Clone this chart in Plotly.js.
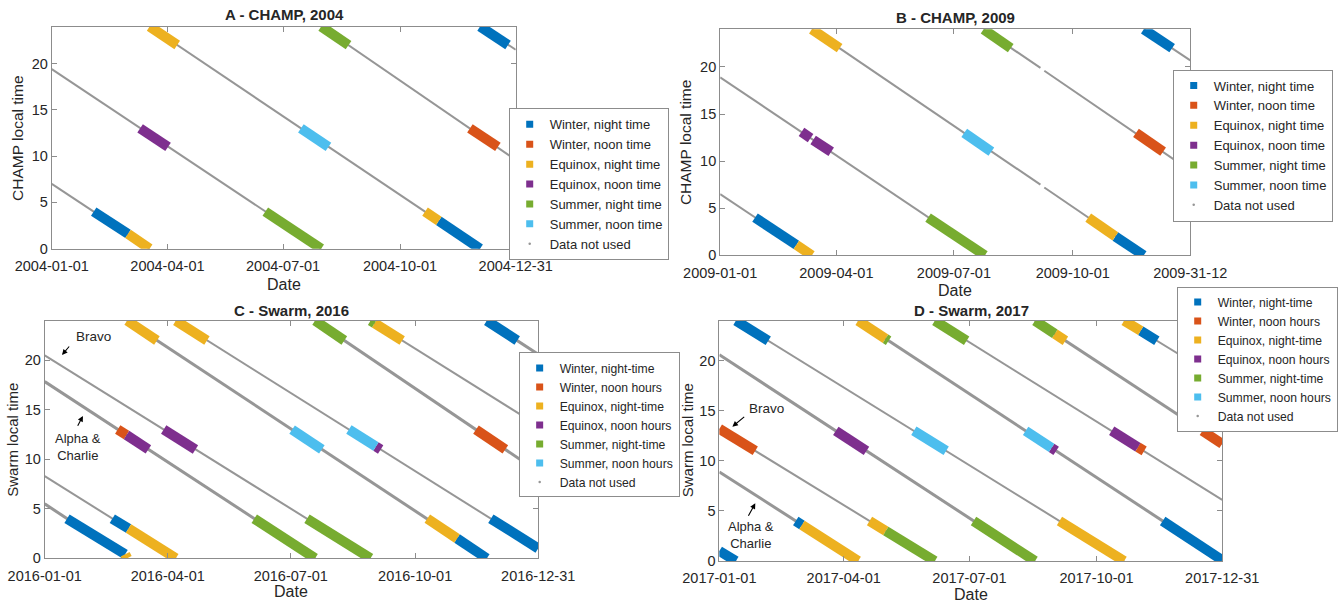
<!DOCTYPE html>
<html><head><meta charset="utf-8">
<script src="https://cdn.plot.ly/plotly-3.0.1.min.js"></script>
<style>html,body{margin:0;padding:0;background:#fff}#chart{width:1338px;height:604px}</style>
</head><body><div id="chart"></div>
<script>
// ---------- DATA ----------
// x = day of year (0 = 1 January), y = local time (hours)
const seriesCHAMP = ['Winter, night time','Winter, noon time','Equinox, night time','Equinox, noon time','Summer, night time','Summer, noon time','Data not used'];
const seriesSwarm = ['Winter, night-time','Winter, noon hours','Equinox, night-time','Equinox, noon hours','Summer, night-time','Summer, noon hours','Data not used'];

const tickDaysA = [0, 91, 182, 274, 365];
const tickLabelsA = ['2004-01-01','2004-04-01','2004-07-01','2004-10-01','2004-12-31'];
const tickDaysB = [0, 90, 181, 273, 364];
const tickLabelsB = ['2009-01-01','2009-04-01','2009-07-01','2009-10-01','2009-31-12'];
const tickDaysC = [0, 91, 182, 274, 365];
const tickLabelsC = ['2016-01-01','2016-04-01','2016-07-01','2016-10-01','2016-12-31'];
const tickDaysD = [0, 90, 181, 273, 364];
const tickLabelsD = ['2017-01-01','2017-04-01','2017-07-01','2017-10-01','2017-12-31'];
const localTimeTicks = [0, 5, 10, 15, 20];

// gray orbit tracks ("Data not used"): [startDay, startLT, endDay, endLT]
const tracksA = [[0,19.4,212,0],[0,7.0,77,0],[77,24,337,0],[212,24,365,9.6],[337,24,365,21.5]];
const tracksB = [[0,18.9,205,0],[0,6.5,71,0],[71,24,248,7.5],[251,7.2,328,0],[204,24,248,19.9],[251,19.6,364,9.0],[328,24,364,20.7]];
const tracksC_AlphaCharlie = [[0,17.85,200,0],[0,5.5,61,0],[61,24,327,0],[200,24,365,8.75],[327,24,365,20.6]];
const tracksC_Bravo = [[0,20.5,241,0],[0,8.3,97,0],[97,24,365,1.0],[241,24,365,13.4]];
const tracksD_AlphaCharlie = [[0,8.9,100.5,0],[100.5,24,364,0.09],[0,20.6,228.5,0],[228.5,24,364,11.7]];
const tracksD_Bravo = [[0,13.2,156,0],[0,1.0,12,0],[12,24,293,0],[156,24,364,6.1],[293,24,364,18.0]];

// selected data: [seriesIndex, startDay, startLT, endDay, endLT]
const bandsA = [
  [0,33,4.0,60,1.6],[2,60,1.6,77,0],[3,69.5,13,91.5,11],[4,168,4,212,0],
  [2,77,24,98.7,22],[5,196,13,217.7,11],[2,293.7,4,304.5,3],[0,304.5,3,337,0],
  [4,212,24,233.5,22],[1,329,13,351,11],[0,337,24,359,22]
];
const bandsB = [
  [3,63,13.1,70,12.45],[3,72,12.25,86,11],[4,161,4,205,0],[0,27,4.0,59,1.1],[2,59,1.1,71,0],
  [2,71,24,92.5,22],[5,189,13,210,11],[2,285,4,306,2],[0,306,2,328,0],
  [4,204,24,225,22],[1,322,13,343,11],[0,328,24,350,22]
];
const bandsC = [
  [1,54,13,60.5,12.45],[3,60.5,12.45,76.7,11],[4,155,4,200,0],[0,16.5,4,59.5,0.4],[2,59.5,0.4,61,0],
  [2,61,24,83,22],[5,183,13,205,11],[2,283,4,305,2],[0,305,2,327,0],
  [4,200,24,221.6,22],[1,319,13,340.7,11],[0,327,24,349.5,22],
  [3,88,13,111.5,11],[4,194,4,241,0],[0,50,4,62,3],[2,62,3,97,0],
  [2,97,24,120,22],[5,225,13,245,11.3],[3,245,11.3,248.5,11],[0,330,4,365,1],
  [4,241,24,244,23.75],[2,244,23.75,264.4,22]
];
const bandsD = [
  [1,0,13.2,26,11],[2,108.7,4,120.5,3],[4,120.5,3,156,0],[0,0,1.0,12,0],
  [0,12,24,35.4,22],[5,140.8,13,164.2,11],[2,246.2,4,293,0],
  [4,156,24,179,22],[3,284,13,303,11.37],[1,303,11.37,307.5,11],
  [2,293,24,305,23],[0,305,23,316.7,22],
  [0,55.3,4,59.8,3.6],[2,59.8,3.6,100.5,0],
  [2,100.5,24,120.3,22.2],[4,120.3,22.2,122.5,22],[5,221.7,13,240.5,11.3],[3,240.5,11.3,243.8,11],[0,320.9,4,364,0.09],
  [3,84.3,13,106.5,11],[4,184,4,228.5,0],
  [4,228.5,24,242.8,22.7],[2,242.8,22.7,250.5,22],[1,349.7,13,364,11.7]
];

// ---------- STYLE ----------
const seasonColors = ['#0072BD','#D95319','#EDB120','#7E2F8E','#77AC30','#4DBEEE'];
const gray = 'rgb(150,150,150)';
const axisGray = '#8c8c8c';
const FONT = 'Liberation Sans, Arial, Helvetica, sans-serif';
const textColor = '#262626';
const W = 1338, H = 604;
const fx = p => p / W, fy = p => 1 - p / H;

function segs(list, off) {
  const x = [], y = [];
  list.forEach(s => { x.push(s[off], s[off + 2], null); y.push(s[off + 1], s[off + 3], null); });
  return {x, y};
}

const traces = [];
function addPanel(n, trackSets, bands, names, legendId) {
  const xa = n === 1 ? 'x' : 'x' + n, ya = n === 1 ? 'y' : 'y' + n;
  trackSets.forEach(([list, w]) => {
    const s = segs(list, 0);
    traces.push({type:'scatter', mode:'lines', x:s.x, y:s.y, xaxis:xa, yaxis:ya,
      line:{color:gray, width:w}, showlegend:false, hoverinfo:'skip'});
  });
  for (let k = 0; k < 6; k++) {
    const s = segs(bands.filter(b => b[0] === k), 1);
    traces.push({type:'scatter', mode:'lines', x:s.x, y:s.y, xaxis:xa, yaxis:ya,
      line:{color:seasonColors[k], width:10}, showlegend:false, hoverinfo:'skip'});
  }
  names.forEach((nm, k) => {
    traces.push({type:'scatter', mode:'markers', x:[null], y:[null], xaxis:xa, yaxis:ya,
      name:nm, legend:legendId, showlegend:true, hoverinfo:'skip',
      marker: k < 6 ? {symbol:'square', size:7, color:seasonColors[k]} : {symbol:'circle', size:2.5, color:gray}});
  });
}
addPanel(1, [[tracksA, 2]], bandsA, seriesCHAMP, 'legend');
addPanel(2, [[tracksB, 2]], bandsB, seriesCHAMP, 'legend2');
addPanel(3, [[tracksC_Bravo, 2], [tracksC_AlphaCharlie, 3]], bandsC, seriesSwarm, 'legend3');
addPanel(4, [[tracksD_Bravo, 2], [tracksD_AlphaCharlie, 3]], bandsD, seriesSwarm, 'legend4');

function xAxis(d0, d1, vals, labels, anchor) {
  return {domain:[fx(d0), fx(d1)], range:[0, vals[vals.length - 1]], tickvals:vals, ticktext:labels,
    anchor, showline:true, mirror:'ticks', linecolor:axisGray, linewidth:1, ticks:'inside', ticklen:5,
    tickcolor:axisGray, tickfont:{family:FONT, size:14.5, color:textColor}, ticklabelstandoff:4,
    showgrid:false, zeroline:false, fixedrange:true};
}
function yAxis(top, bottom, anchor) {
  return {domain:[fy(bottom), fy(top)], range:[0, 24], tickvals:localTimeTicks, anchor,
    showline:true, mirror:'ticks', linecolor:axisGray, linewidth:1, ticks:'inside', ticklen:5,
    tickcolor:axisGray, tickfont:{family:FONT, size:14.5, color:textColor},
    showgrid:false, zeroline:false, fixedrange:true};
}
function legendAt(left, centerY, size) {
  return {x:fx(left), y:fy(centerY), xanchor:'left', yanchor:'middle', bgcolor:'#ffffff',
    bordercolor:axisGray, borderwidth:1, font:{family:FONT, size, color:textColor}, traceorder:'normal'};
}
function label(text, x, y, size, extra) {
  return Object.assign({text, x:fx(x), y:fy(y), xref:'paper', yref:'paper', showarrow:false,
    xanchor:'center', yanchor:'middle', font:{family:FONT, size, color:textColor}}, extra || {});
}
function arrow(hx, hy, ax, ay) {
  return {text:'', x:fx(hx), y:fy(hy), xref:'paper', yref:'paper', showarrow:true,
    ax, ay, arrowhead:2, arrowsize:1, arrowwidth:1.1, arrowcolor:'#000', standoff:0, startstandoff:0};
}

const layout = {
  width:W, height:H, margin:{l:0, r:0, t:0, b:0}, paper_bgcolor:'#fff', plot_bgcolor:'#fff',
  xaxis: xAxis(52, 518, tickDaysA, tickLabelsA, 'y'),
  yaxis: yAxis(26.5, 248.7, 'x'),
  xaxis2: xAxis(723.4, 1195.6, tickDaysB, tickLabelsB, 'y2'),
  yaxis2: yAxis(29.3, 255.3, 'x2'),
  xaxis3: xAxis(44.9, 540.6, tickDaysC, tickLabelsC, 'y3'),
  yaxis3: yAxis(320.7, 558.3, 'x3'),
  xaxis4: xAxis(722.6, 1227.7, tickDaysD, tickLabelsD, 'y4'),
  yaxis4: yAxis(320.7, 561, 'x4'),
  legend: legendAt(511, 184.4, 13),
  legend2: legendAt(1178, 145.5, 13),
  legend3: legendAt(521, 424.9, 12.2),
  legend4: legendAt(1182, 359, 12.2),
  annotations: [
    label('<b>A - CHAMP, 2004</b>', 285.5, 15, 15),
    label('<b>B - CHAMP, 2009</b>', 959.7, 17.7, 15),
    label('<b>C - Swarm, 2016</b>', 292.7, 310, 15),
    label('<b>D - Swarm, 2017</b>', 975.6, 310, 15),
    label('Date', 285.5, 284, 16),
    label('Date', 959.7, 290, 16),
    label('Date', 292.7, 591.7, 16),
    label('Date', 975.6, 594, 16),
    label('CHAMP local time', 18, 138, 15.5, {textangle:-90}),
    label('CHAMP local time', 689.2, 143, 15.5, {textangle:-90}),
    label('Swarm local time', 12.8, 440, 15, {textangle:-90}),
    label('Swarm local time', 691.4, 440, 15, {textangle:-90}),
    label('Bravo', 94, 336.7, 13.5),
    label('Alpha &amp;<br>Charlie', 78, 446.7, 13),
    label('Bravo', 769.5, 408.3, 13.5),
    label('Alpha &amp;<br>Charlie', 754, 535, 13),
    arrow(62.3, 355, 8.4, -10),
    arrow(83.3, 416, -6, 11.3),
    arrow(735.7, 426.7, 13.3, -11),
    arrow(758.7, 503.3, -7.7, 14)
  ]
};

Plotly.newPlot('chart', traces, layout, {displayModeBar:false, staticPlot:true});
</script></body></html>
